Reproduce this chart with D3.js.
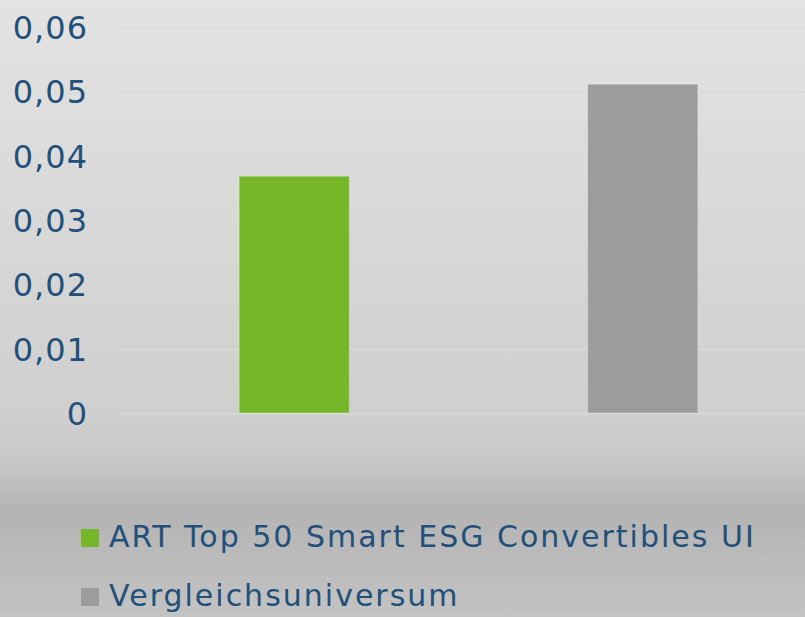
<!DOCTYPE html>
<html>
<head>
<meta charset="utf-8">
<script src="https://cdn.jsdelivr.net/npm/d3@7"></script>
<style>
  html, body { margin: 0; padding: 0; background: #d8d8d8; }
  svg { display: block; }
  text { font-family: "DejaVu Sans", sans-serif; fill: #22507a; }
</style>
</head>
<body>
<svg id="chart" width="805" height="617"></svg>
<script>
const seriesNames = ["ART Top 50 Smart ESG Convertibles UI", "Vergleichsuniversum"];
const seriesValues = [0.0368, 0.0511];
const seriesColors = ["#76b72a", "#9c9c9c"];
const tickValues = [0, 0.01, 0.02, 0.03, 0.04, 0.05, 0.06];
const tickLabels = ["0", "0,01", "0,02", "0,03", "0,04", "0,05", "0,06"];

const W = 805, H = 617;
const svg = d3.select("#chart");

const defs = svg.append("defs");
const grad = defs.append("linearGradient").attr("id", "bg")
  .attr("x1", 0).attr("y1", 0).attr("x2", 0).attr("y2", 1);
[[0, "#e3e3e3"], [0.67, "#cfcfcf"], [0.73, "#cbcbcb"], [0.83, "#b4b4b4"], [1, "#c3c3c3"]]
  .forEach(([o, c]) => grad.append("stop").attr("offset", o).attr("stop-color", c));
svg.append("rect").attr("width", W).attr("height", H).attr("fill", "url(#bg)");

const x = d3.scaleBand().domain(seriesNames).range([120, 817])
  .paddingInner(0.684).paddingOuter(0.342);
const y = d3.scaleLinear().domain([0, 0.06]).range([413, 27]);

// gridlines
const yAxis = d3.axisLeft(y).tickValues(tickValues)
  .tickSize(-(817 - 120)).tickFormat((d, i) => tickLabels[i]);
const gy = svg.append("g").attr("transform", "translate(120,0)").call(yAxis);
gy.select(".domain").remove();
gy.selectAll(".tick line").attr("stroke", "#d9d9d9").attr("stroke-width", 1.5);
gy.selectAll(".tick text")
  .attr("x", -32).attr("dy", "0.36em")
  .attr("fill", "#22507a")
  .style("font-size", "32px").style("letter-spacing", "1px")
  .style("font-family", "'DejaVu Sans', sans-serif")
  .attr("text-anchor", "end");

// bars
svg.append("g").selectAll("rect").data(seriesNames).join("rect")
  .attr("x", d => x(d))
  .attr("width", x.bandwidth())
  .attr("y", (d, i) => y(seriesValues[i]))
  .attr("height", (d, i) => y(0) - y(seriesValues[i]))
  .attr("fill", (d, i) => seriesColors[i])
  .attr("stroke", "rgba(255,255,255,0.25)").attr("stroke-width", 1);

// legend
const lg = svg.append("g").selectAll("g").data(seriesNames).join("g")
  .attr("transform", (d, i) => `translate(81,${529 + i * 59})`);
lg.append("rect").attr("width", 18).attr("height", 18)
  .attr("fill", (d, i) => seriesColors[i]);
lg.append("text").attr("x", 28).attr("y", 18)
  .style("font-size", "30px").style("letter-spacing", "2px")
  .text(d => d);
</script>
</body>
</html>
